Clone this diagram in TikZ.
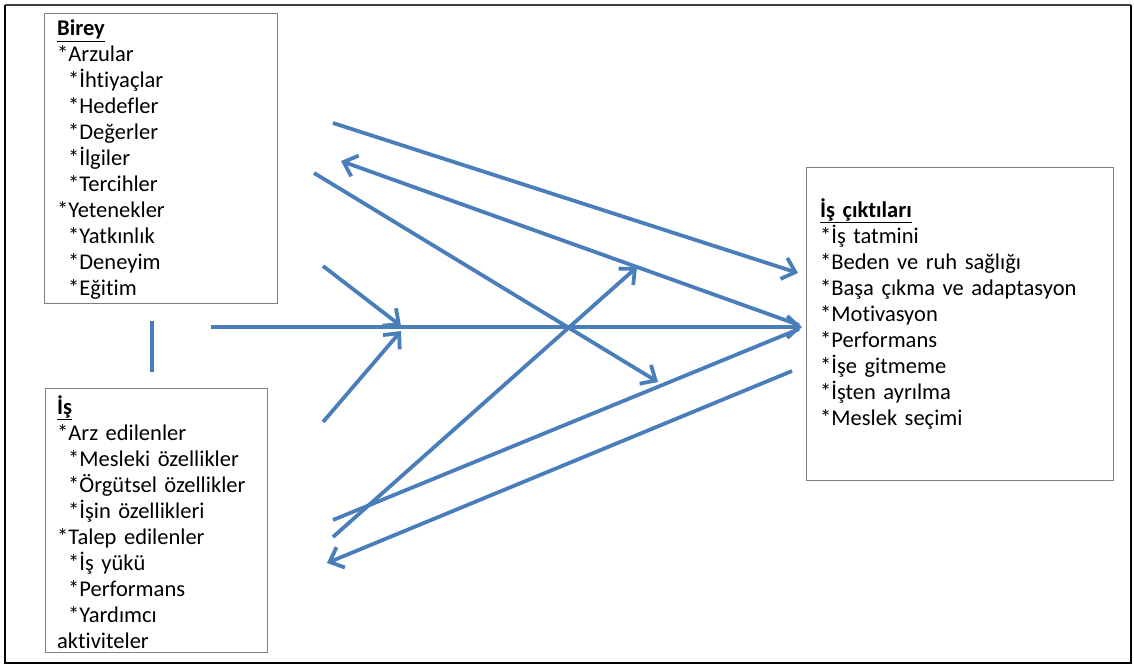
\documentclass[tikz,border=0pt]{standalone}
\usepackage{fontspec}
\setmainfont{Carlito}[Ligatures=NoCommon]
\usetikzlibrary{arrows.meta}
\definecolor{flowblue}{HTML}{4A7EBB}
\definecolor{boxgray}{HTML}{7F7F7F}
% a list line that starts with an asterisk (kept apart from \\*)
\newcommand{\itm}[1]{{}*#1}
\newcommand{\subitm}[1]{\hspace*{11pt}*#1}

\begin{document}
\begin{tikzpicture}[x=1pt,y=-1pt,
  flow/.style={draw=flowblue, line width=3.8pt},
  barb/.style={-{Straight Barb[length=12pt,width=22pt]}},
  panel/.style={draw=boxgray, line width=1.3pt, inner sep=0pt, anchor=north west},
  listtext/.style={font=\fontsize{22.5pt}{26pt}\selectfont, align=left,
    text width=#1, inner sep=0pt, anchor=base west}]
\useasboundingbox (0,0) rectangle (1134,666);

% outer frame
\draw[black!75, line width=1.4pt] (5,5) -- (1131,5);
\draw[black, line width=2.4pt] (5,5) -- (5,663) -- (1131,663) -- (1131,5);

% the three boxes
\node[panel, minimum width=233pt, minimum height=290pt] (birey) at (44,13) {};
\node[panel, minimum width=222pt, minimum height=264pt] (is) at (45,388) {};
\node[panel, minimum width=307pt, minimum height=313pt] (cikti) at (806,167) {};

\node[listtext=210pt] (bireytext) at (57,36) {%
\textbf{\underline{Birey}}\\
\itm{Arzular}\\
\subitm{İhtiyaçlar}\\
\subitm{Hedefler}\\
\subitm{Değerler}\\
\subitm{İlgiler}\\
\subitm{Tercihler}\\
\itm{Yetenekler}\\
\subitm{Yatkınlık}\\
\subitm{Deneyim}\\
\subitm{Eğitim}};

\node[listtext=205pt] (istext) at (57,414) {%
\textbf{\underline{İş}}\\
\itm{Arz edilenler}\\
\subitm{Mesleki özellikler}\\
\subitm{Örgütsel özellikler}\\
\subitm{İşin özellikleri}\\
\itm{Talep edilenler}\\
\subitm{İş yükü}\\
\subitm{Performans}\\
\subitm{Yardımcı}\\
aktiviteler};

\node[listtext=285pt] (ciktitext) at (820,217) {%
\textbf{\underline{İş çıktıları}}\\
\itm{İş tatmini}\\
\itm{Beden ve ruh sağlığı}\\
\itm{Başa çıkma ve adaptasyon}\\
\itm{Motivasyon}\\
\itm{Performans}\\
\itm{İşe gitmeme}\\
\itm{İşten ayrılma}\\
\itm{Meslek seçimi}};

% connector end points
\coordinate (v1) at (152,321);  \coordinate (v2) at (152,372);
\coordinate (a1s) at (333,123); \coordinate (a1e) at (798,273);
\coordinate (a2s) at (799,325); \coordinate (a2e) at (341,161);
\coordinate (a3s) at (314,173); \coordinate (a3e) at (658,382);
\coordinate (a4s) at (323,266); \coordinate (a4e) at (401,326);
\coordinate (a5s) at (211,327); \coordinate (a5e) at (802,327);
\coordinate (a6s) at (323,422); \coordinate (a6e) at (401,331);
\coordinate (a7s) at (333,520); \coordinate (a7e) at (799,329);
\coordinate (a8s) at (333,537); \coordinate (a8e) at (637,267);
\coordinate (a9s) at (792,371); \coordinate (a9e) at (327,563);

% connectors
\draw[flow] (v1) -- (v2);
\draw[flow, barb] (a1s) -- (a1e);
\draw[flow, barb] (a2s) -- (a2e);
\draw[flow, barb] (a3s) -- (a3e);
\draw[flow, barb] (a4s) -- (a4e);
\draw[flow, barb] (a5s) -- (a5e);
\draw[flow, barb] (a6s) -- (a6e);
\draw[flow] (a7s) -- (a7e);
\draw[flow, barb] (a8s) -- (a8e);
\draw[flow, barb] (a9s) -- (a9e);
\end{tikzpicture}
\end{document}
